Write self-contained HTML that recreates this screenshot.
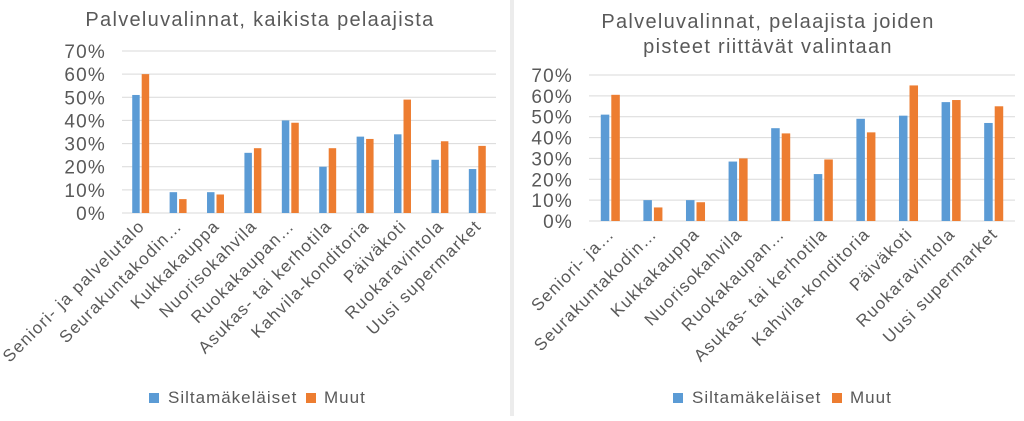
<!DOCTYPE html>
<html><head><meta charset="utf-8"><style>
body{margin:0;background:#fff;width:1024px;height:416px;overflow:hidden;font-family:"Liberation Sans",sans-serif}
</style></head><body>
<svg id="s" width="1024" height="416">
<line x1="511" y1="0" x2="511" y2="416" stroke="#d9d9d9"/>
<line x1="513" y1="0" x2="513" y2="416" stroke="#d9d9d9"/>
<text x="260" y="26" text-anchor="middle" font-size="20" letter-spacing="1.3" fill="#595959">Palveluvalinnat, kaikista pelaajista</text>
<text x="768" y="28" text-anchor="middle" font-size="20" letter-spacing="1.3" fill="#595959">Palveluvalinnat, pelaajista joiden</text>
<text x="768" y="53" text-anchor="middle" font-size="20" letter-spacing="1.3" fill="#595959">pisteet riittävät valintaan</text>
</svg>
<script>
const categoriesLeft=["Seniori- ja palvelutalo","Seurakuntakodin…","Kukkakauppa","Nuorisokahvila","Ruokakaupan…","Asukas- tai kerhotila","Kahvila-konditoria","Päiväkoti","Ruokaravintola","Uusi supermarket"];
const categoriesRight=["Seniori- ja…","Seurakuntakodin…","Kukkakauppa","Nuorisokahvila","Ruokakaupan…","Asukas- tai kerhotila","Kahvila-konditoria","Päiväkoti","Ruokaravintola","Uusi supermarket"];
const leftSilta=[51,9,9,26,40,20,33,34,23,19];
const leftMuut=[60,6,8,28,39,28,32,49,31,29];
const rightSilta=[51,10,10,28.5,44.5,22.5,49,50.5,57,47];
const rightMuut=[60.5,6.5,9,30,42,29.5,42.5,65,58,55];
const ticks=[0,10,20,30,40,50,60,70];
const NS="http://www.w3.org/2000/svg";
const svg=document.getElementById('s');
function mk(tag,attrs){const e=document.createElementNS(NS,tag);for(const k in attrs)e.setAttribute(k,attrs[k]);svg.appendChild(e);return e;}
function chart(p,x0,x1,y0,yTop,cats,a,b,legY,legX,legX2){
 const y=v=>y0-(y0-yTop)*v/70;
 const cw=(x1-x0)/cats.length;
 const bw=cw*0.2;
 ticks.forEach(t=>{
  const l=mk('line',{x1:x0,x2:x1,y1:y(t),y2:y(t),stroke:'#d9d9d9'});
  
  
  const tx=mk('text',{x:x0-16,y:y(t)+7,'text-anchor':'end','font-size':19,'letter-spacing':1.2,fill:'#595959'});
  tx.textContent=t+'%';
  
  
 });
 cats.forEach((c,i)=>{
  const cx=x0+cw*(i+0.5);
  const r1=mk('rect',{x:cx-bw-1,y:y(a[i]),width:bw,height:y0-y(a[i]),fill:'#5b9bd5'});
  
  
  const r2=mk('rect',{x:cx+1,y:y(b[i]),width:bw,height:y0-y(b[i]),fill:'#ed7d31'});
  
  
  const t=mk('text',{x:cx+5,y:y0+14,'text-anchor':'end','font-size':17,'letter-spacing':1.3,fill:'#595959',transform:`rotate(-45 ${cx+5} ${y0+14})`});
  t.textContent=c;
  
  
 });
 const s1=mk('rect',{x:legX,y:legY-10,width:10,height:10,fill:'#5b9bd5'});
 
 
 const t1=mk('text',{x:legX+19,y:legY,'font-size':17,'letter-spacing':1,fill:'#595959'});t1.textContent='Siltamäkeläiset';
 
 
 const s2=mk('rect',{x:legX2,y:legY-10,width:10,height:10,fill:'#ed7d31'});
 
 
 const t2=mk('text',{x:legX2+18,y:legY,'font-size':17,'letter-spacing':1,fill:'#595959'});t2.textContent='Muut';
 
 
}
chart('left',122,496,213,51,categoriesLeft,leftSilta,leftMuut,403,149,306);
chart('right',589,1015,221,75,categoriesRight,rightSilta,rightMuut,403,673,832);
</script>
</body></html>
